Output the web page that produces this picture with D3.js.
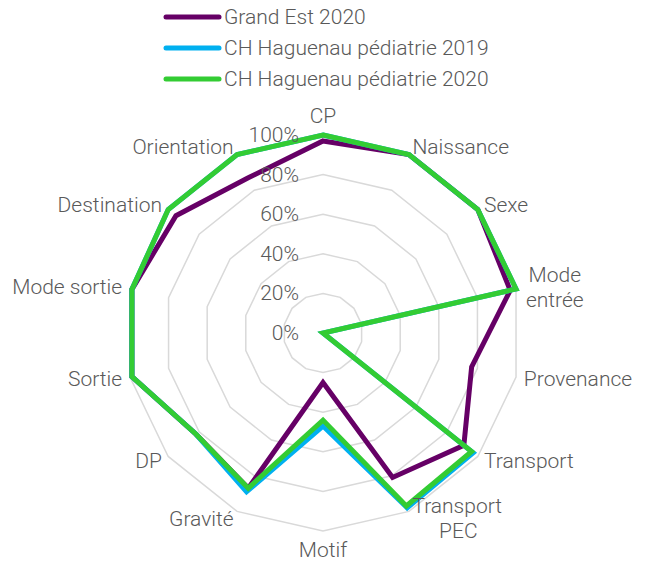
<!DOCTYPE html>
<html>
<head>
<meta charset="utf-8">
<script src="https://cdn.jsdelivr.net/npm/d3@7"></script>
<style>
  html, body { margin: 0; padding: 0; background: #fff; }
  svg { display: block; }
  text { font-family: Roboto, "Liberation Sans", sans-serif; fill: #595959; font-weight: 300; }
</style>
</head>
<body>
<svg id="chart" width="648" height="563"></svg>
<script>
const categories = ["CP", "Naissance", "Sexe", "Mode entrée", "Provenance", "Transport", "Transport PEC", "Motif", "Gravité", "DP", "Sortie", "Mode sortie", "Destination", "Orientation"];
const grandEst2020 = [97, 100, 100, 97, 77, 91, 81, 25, 87, 82, 99, 99, 95, 87];
const haguenau2019 = [100, 100, 100, 100, 0, 97, 98, 47, 89, 82, 99, 99, 100, 100];
const haguenau2020 = [100, 100, 100, 100, 0, 96, 97, 44, 87, 82, 99, 99, 100, 100];
const seriesNames = ["Grand Est 2020", "CH Haguenau pédiatrie 2019", "CH Haguenau pédiatrie 2020"];
const seriesColors = ["#660066", "#00B0F0", "#33CC33"];
const tickValues = [0, 20, 40, 60, 80, 100];

const series = [grandEst2020, haguenau2019, haguenau2020];
const svg = d3.select("#chart");
const cx = 323, cy = 333, R = 198;
const FS = 21;
const rScale = d3.scaleLinear().domain([0, 100]).range([0, R]);
const angle = d3.scaleLinear().domain([0, categories.length]).range([0, 2 * Math.PI]);

const g = svg.append("g").attr("transform", `translate(${cx},${cy})`);

// grid rings
const ringLine = d3.lineRadial().curve(d3.curveLinearClosed)
  .angle((d, i) => angle(i)).radius(d => rScale(d));
tickValues.filter(t => t > 0).forEach(t => {
  g.append("path").attr("d", ringLine(categories.map(() => t)))
    .attr("fill", "none").attr("stroke", "#d9d9d9").attr("stroke-width", 1.5);
});

// series
const seriesLine = d3.lineRadial().curve(d3.curveLinearClosed)
  .angle((d, i) => angle(i)).radius(d => rScale(d));
series.forEach((s, k) => {
  g.append("path").attr("d", seriesLine(s))
    .attr("fill", "none").attr("stroke", seriesColors[k])
    .attr("stroke-width", 5).attr("stroke-linejoin", "miter");
});

// tick labels
tickValues.forEach(t => {
  g.append("text").attr("x", -24).attr("y", -rScale(t))
    .attr("text-anchor", "end").attr("dominant-baseline", "central")
    .attr("font-size", FS).text(t + "%");
});

// category labels
categories.forEach((c, i) => {
  const a = angle(i);
  const s = Math.sin(a), co = Math.cos(a);
  const rl = R + 8;
  const x = rl * s, y = -rl * co;
  const anchor = s > 0.1 ? "start" : (s < -0.1 ? "end" : "middle");
  const words = c === "Mode entrée" ? ["Mode", "entrée"] : (c === "Transport PEC" ? ["Transport", "PEC"] : [c]);
  const lh = 25;
  let y0 = y - (words.length - 1) * lh / 2;
  if (anchor === "middle") y0 += -co * 11;
  const txt = g.append("text").attr("text-anchor", anchor).attr("font-size", FS);
  words.forEach((w, j) => {
    let xx = x;
    let anc = anchor;
    if (c === "Transport PEC" && j === 1) { xx = x + 46; anc = "middle"; }
    if (c === "Mode entrée") { xx = x + 31; anc = "middle"; }
    txt.append("tspan").attr("x", xx).attr("y", y0 + j * lh)
      .attr("text-anchor", anc)
      .attr("dominant-baseline", "central").text(w);
  });
});

// legend
const legend = svg.append("g");
seriesNames.forEach((n, k) => {
  const y = 17 + k * 31;
  legend.append("line").attr("x1", 166).attr("x2", 219).attr("y1", y).attr("y2", y)
    .attr("stroke", seriesColors[k]).attr("stroke-width", 5).attr("stroke-linecap", "round");
  legend.append("text").attr("x", 224).attr("y", y).attr("dominant-baseline", "central")
    .attr("font-size", FS).text(n);
});
</script>
</body>
</html>
